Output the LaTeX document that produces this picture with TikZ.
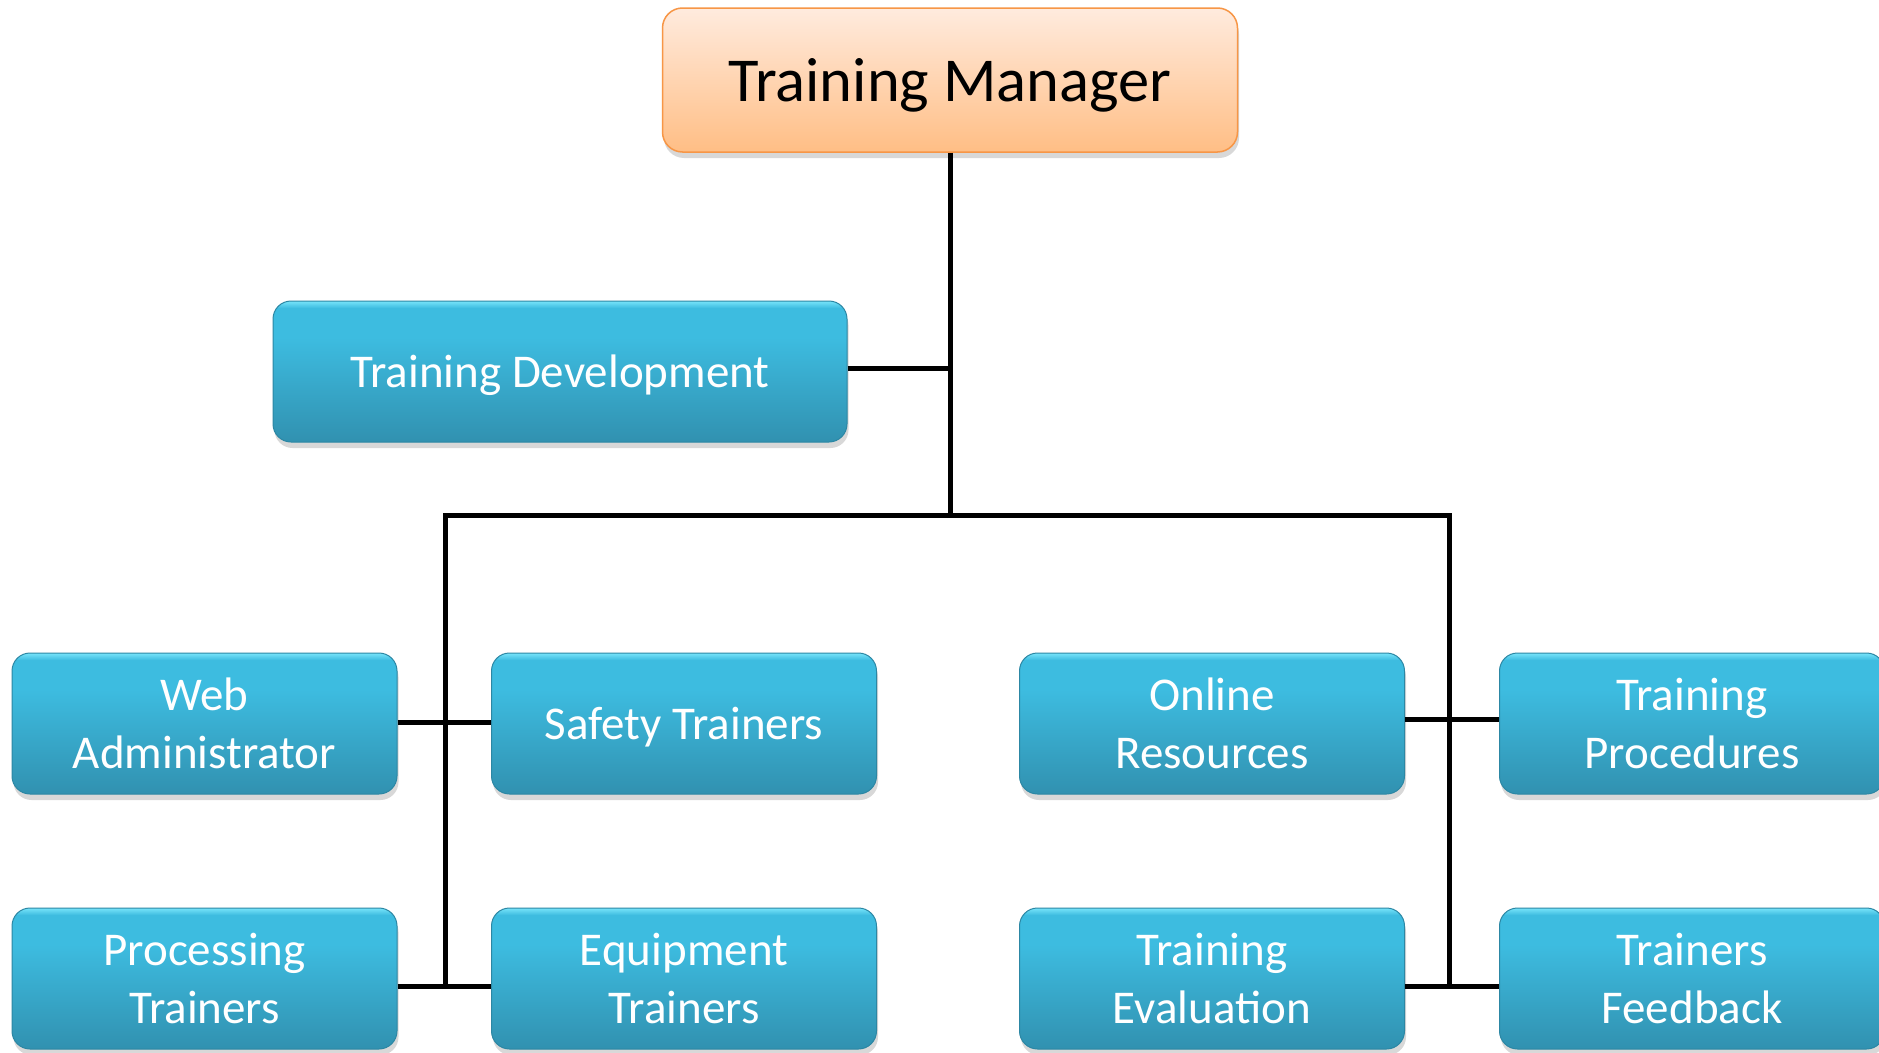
\documentclass[tikz,border=0pt]{standalone}
\usepackage{fontspec}
\setmainfont{Carlito}
\usetikzlibrary{shadows}
\definecolor{bB}{HTML}{3191B0}
\definecolor{bM}{HTML}{3DBCE0}
\definecolor{bT}{HTML}{78E4FA}
\definecolor{bDraw}{HTML}{2C87A4}
\definecolor{oTop}{HTML}{FFEBDE}
\definecolor{oBot}{HTML}{FFBE85}
\definecolor{oDraw}{HTML}{F79646}
\pgfdeclareverticalshading{bluegloss}{100bp}{color(0bp)=(bB); color(25bp)=(bB); color(62bp)=(bM); color(72.5bp)=(bM); color(75bp)=(bT); color(100bp)=(bT)}
\tikzset{
  unitbox/.style={rounded corners=18pt, align=center, inner sep=0pt,
    drop shadow={opacity=0.3, shadow xshift=1.5pt, shadow yshift=-6pt}},
  bluebox/.style={unitbox, shading=bluegloss, draw=bDraw, line width=1pt,
    minimum width=385pt, minimum height=141pt, text=white,
    font=\fontsize{47}{57.5}\selectfont},
  topbox/.style={unitbox, top color=oTop, bottom color=oBot, draw=oDraw, line width=1.5pt,
    minimum width=575pt, minimum height=144pt, text=black,
    font=\fontsize{62.5}{75}\selectfont, rounded corners=20pt},
  oneline/.style={text depth=0pt},
  link/.style={line width=5pt, black}
}
\begin{document}
\begin{tikzpicture}[x=1pt, y=-1pt]
\clip (0,0) rectangle (1879,1052);
\fill[white] (0,0) rectangle (1879,1052);
% nodes
\node[topbox, oneline] (mgr) at (950,80) {Training Manager};
\node[bluebox, oneline, minimum width=574pt] (dev) at (560,371.5) {Training Development};
\node[bluebox] (web) at (204.5,723.5) {Web\\Administrator};
\node[bluebox, oneline] (safe) at (684,723.5) {Safety Trainers};
\node[bluebox] (onl) at (1212,723.5) {Online\\Resources};
\node[bluebox] (proc) at (1692,723.5) {Training\\Procedures};
\node[bluebox] (pt) at (204.5,978.5) {Processing\\Trainers};
\node[bluebox] (eq) at (684,978.5) {Equipment\\Trainers};
\node[bluebox] (ev) at (1212,978.5) {Training\\Evaluation};
\node[bluebox] (fb) at (1692,978.5) {Trainers\\Feedback};
% bus coordinates
\coordinate (bus) at (950,515);
\coordinate (busL) at (445,515);
\coordinate (busR) at (1449,515);
\coordinate (lowL) at (445,986);
\coordinate (lowR) at (1449,986);
% connectors
\draw[link] (mgr.south) -- (mgr.south |- bus);
\draw[link] (dev.east |- 0,368) -- (mgr.south |- 0,368);
\draw[link, line cap=rect] (busL) -- (busR);
\draw[link] (busL) -- (lowL);
\draw[link] (busR) -- (lowR);
\draw[link] (web.east |- 0,722) -- (safe.west |- 0,722);
\draw[link] (pt.east |- lowL) -- (eq.west |- lowL);
\draw[link] (onl.east |- 0,719) -- (proc.west |- 0,719);
\draw[link] (ev.east |- lowR) -- (fb.west |- lowR);
\end{tikzpicture}
\end{document}
